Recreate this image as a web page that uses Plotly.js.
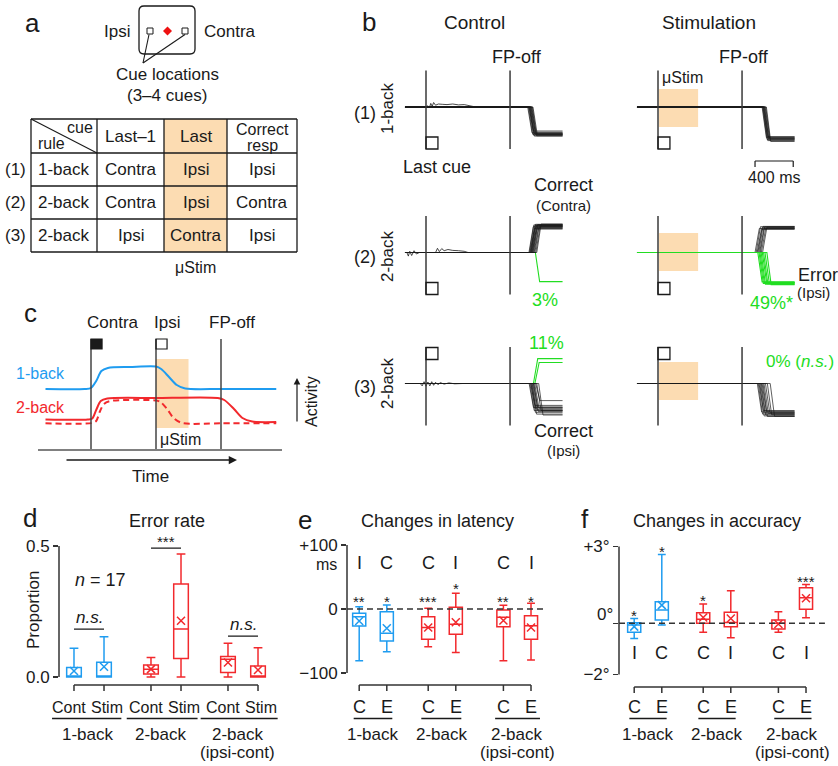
<!DOCTYPE html>
<html>
<head>
<meta charset="utf-8">
<script src="https://cdn.plot.ly/plotly-3.0.1.min.js"></script>
<style>
html,body{margin:0;padding:0;background:#fff;}
#chart{width:838px;height:766px;}
</style>
</head>
<body>
<div id="chart"></div>
<script>
// ======================= DATA =======================
// (a) task table
const tableHeader = ['Last–1', 'Last', 'Correct<br>resp'];
const tableRowIds = ['(1)', '(2)', '(3)'];
const tableRule = ['1-back', '2-back', '2-back'];
const tableLastMinus1 = ['Contra', 'Contra', 'Ipsi'];
const tableLast = ['Ipsi', 'Ipsi', 'Contra'];
const tableCorrect = ['Ipsi', 'Contra', 'Ipsi'];

// (b) eye traces: saccade onset (ms from last cue) and end position (deg, + = up/contra)
const bFPoff = 880, bStimDur = 410, bStart = -220, bEnd = 1430, bSacDur = 45;
const bC1Lat = [1065, 1072, 1078, 1082, 1086, 1090, 1094, 1098, 1103, 1108, 1114, 1120];
const bC1Amp = [-8.6, -9.1, -8.0, -9.4, -8.8, -9.7, -9.0, -8.4, -9.3, -8.9, -9.6, -9.2];
const bS1Lat = [1090, 1096, 1100, 1104, 1108, 1112, 1116, 1122, 1128, 1135];
const bS1Amp = [-10.2, -10.8, -9.9, -11.2, -10.5, -10.0, -11.0, -10.4, -10.7, -11.5];
const bC2Lat = [1078, 1084, 1089, 1094, 1098, 1102, 1106, 1110, 1115, 1120, 1126, 1132, 1140, 1150, 1160];
const bC2Amp = [8.6, 9.2, 8.0, 9.0, 8.4, 9.4, 8.8, 7.8, 9.1, 8.5, 9.3, 8.2, 8.9, 8.7, 9.5];
const bC2ErrLat = [1145];
const bC2ErrAmp = [-9.7];
const bS2Lat = [1016, 1028, 1038, 1046, 1055, 1064, 1072, 1082, 1095];
const bS2Amp = [8.0, 8.6, 7.7, 8.3, 8.7, 8.0, 8.5, 7.9, 8.4];
const bS2ErrLat = [1045, 1058, 1068, 1080, 1092, 1105, 1120, 1140];
const bS2ErrAmp = [-9.8, -10.3, -10.0, -10.6, -9.9, -10.4, -10.1, -10.7];
const bC3Lat = [1080, 1088, 1095, 1100, 1106, 1112, 1118, 1124, 1130, 1138, 1148, 1160, 1180];
const bC3Amp = [-8.0, -9.0, -7.3, -9.6, -8.5, -10.2, -8.8, -7.8, -9.3, -8.2, -5.7, -9.0, -10.5];
const bC3ErrLat = [1125, 1140];
const bC3ErrAmp = [8.3, 7.0];
const bS3Lat = [1040, 1050, 1058, 1066, 1074, 1082, 1090, 1100, 1110, 1125, 1145, 1175];
const bS3Amp = [-9.5, -10.2, -9.0, -10.8, -9.8, -10.5, -9.3, -11.0, -10.0, -9.7, -10.4, -10.9];
const bC1WigT = [0, 20, 35, 50, 65, 80, 100, 130, 170, 220, 280, 340, 400, 460, 520];
const bC1WigY = [0, 0.4, -0.3, 1.2, 0.2, 1.5, 0.6, 1.0, 0.9, 0.8, 1.0, 0.7, 0.8, 0.5, 0];
const bC2WigT = [-200, -185, -170, -150, -125, -100, -70, 100, 120, 140, 165, 190, 230, 280, 340, 400, 440];
const bC2WigY = [0, -1.2, 0.4, -1.0, 0.6, -0.5, 0, 0, 1.4, 0.3, 1.3, 0.6, 1.0, 0.7, 0.6, 0.4, 0];
const bC3WigT = [-60, -40, -20, 0, 20, 40, 60, 80, 100, 125, 150, 190, 240, 300, 380];
const bC3WigY = [0, -0.8, 0.6, -0.9, 0.5, -0.8, 0.6, -0.6, 0.4, -0.4, 0.3, -0.2, 0.2, -0.1, 0];

// (c) schematic activity (time: Contra cue = 0, Ipsi cue = 1, FP-off = 2)
const cEvents = ['Contra', 'Ipsi', 'FP-off'];
const cBlueT = [-0.7, -0.1, 0.0, 0.08, 0.16, 0.26, 0.6, 1.0, 1.08, 1.2, 1.32, 1.45, 2.0, 2.85];
const cBlueY = [6.0, 6.0, 6.1, 6.8, 7.8, 8.1, 8.2, 8.25, 8.0, 7.2, 6.4, 6.05, 6.0, 6.0];
const cRedT = [-0.7, -0.05, 0.02, 0.08, 0.15, 0.25, 1.0, 1.95, 2.05, 2.2, 2.33, 2.48, 2.85];
const cRedY = [2.95, 2.95, 3.05, 3.9, 4.8, 5.05, 5.1, 5.1, 4.9, 4.0, 3.1, 2.75, 2.7];
const cDashT = [-0.7, 0.02, 0.08, 0.14, 0.2, 0.3, 1.0, 1.07, 1.17, 1.27, 1.4, 2.0, 2.85];
const cDashY = [2.57, 2.6, 2.8, 3.8, 4.5, 4.8, 4.85, 4.7, 4.0, 3.1, 2.6, 2.57, 2.57];

// (d) error rate  [1b Cont, 1b Stim, 2b Cont, 2b Stim, ipsi Cont, ipsi Stim]
const groupNames = ['1-back', '2-back', '2-back'];
const groupSub = ['', '', '(ipsi-cont)'];
const dConds = ['Cont', 'Stim'];
const dLo = [0, 0, 0, 0, 0, 0];
const dQ1 = [0, 0, 0.011, 0.071, 0.017, 0];
const dMed = [0, 0, 0.03, 0.183, 0.068, 0];
const dQ3 = [0.036, 0.056, 0.046, 0.355, 0.078, 0.042];
const dHi = [0.11, 0.154, 0.074, 0.469, 0.129, 0.112];
const dMean = [0.023, 0.039, 0.03, 0.215, 0.055, 0.027];
const dSig = ['<i>n.s.</i>', '***', '<i>n.s.</i>'];

// (e) changes in latency (ms)
const eConds = ['C', 'E'];
const eLo = [-80.7, -66.7, -59, -68, -81, -79.7];
const eQ1 = [-26.6, -50, -47.4, -39.5, -27.6, -47.4];
const eMed = [-12, -38, -29, -24, -13, -26];
const eQ3 = [-6.8, -4.2, -12, 2.6, -1.6, -10.4];
const eHi = [3.6, 6.3, 1, 24.5, 6, 9];
const eMean = [-18.8, -30, -29, -20.8, -18, -29];
const eSide = ['I', 'C', 'C', 'I', 'C', 'I'];
const eStars = ['**', '*', '***', '*', '**', '*'];

// (f) changes in accuracy (deg)
const fLo = [-0.59, -0.07, -0.35, -0.56, -0.35, 0.22];
const fQ1 = [-0.35, 0.13, 0, -0.13, -0.22, 0.55];
const fMed = [-0.07, 0.52, 0.16, 0.03, 0, 1.0];
const fQ3 = [0.02, 0.84, 0.41, 0.43, 0.13, 1.39];
const fHi = [0.19, 2.69, 0.75, 1.27, 0.45, 1.52];
const fMean = [-0.13, 0.71, 0.23, 0.19, -0.03, 0.98];
const fSide = ['I', 'C', 'C', 'I', 'C', 'I'];
const fStars = ['*', '*', '*', '', '', '***'];

// ======================= STYLE / HELPERS =======================
const W = 838, H = 766;
const FONT = 'Liberation Sans, Arial, Helvetica, sans-serif';
const INK = '#1a1a1a', BLUE = '#1f9cf0', RED = '#f2292d', GREEN = '#22dd22', ORANGE = '#fcdcb2';
const traces = [], shapes = [], annotations = [];
const layout = {
  width: W, height: H, margin: {l: 0, r: 0, t: 0, b: 0},
  paper_bgcolor: '#ffffff', plot_bgcolor: 'rgba(0,0,0,0)', showlegend: false,
  font: {family: FONT, size: 17, color: INK}, shapes: shapes, annotations: annotations
};
const xk = i => 'xaxis' + (i === 1 ? '' : i), yk = i => 'yaxis' + (i === 1 ? '' : i);
const xa = i => 'x' + (i === 1 ? '' : i), ya = i => 'y' + (i === 1 ? '' : i);
const xDom = (a, b) => [a / W, b / W];
const yDom = (top, bot) => [1 - bot / H, 1 - top / H];
function axX(i, v) { const a = layout[xk(i)]; return a.domain[0] + (v - a.range[0]) / (a.range[1] - a.range[0]) * (a.domain[1] - a.domain[0]); }
function TP(text, xp, yp, size, color, extra) {
  annotations.push(Object.assign({text: text, x: xp, y: yp, xref: 'paper', yref: 'paper', showarrow: false,
    xanchor: 'center', yanchor: 'middle', font: {family: FONT, size: size || 17, color: color || INK}}, extra || {}));
}
function T(text, x, y, size, color, extra) { TP(text, x / W, 1 - y / H, size, color, extra); }
function LP(x0, y0, x1, y1, w, color, dash) {
  shapes.push({type: 'line', xref: 'paper', yref: 'paper', x0: x0, y0: y0, x1: x1, y1: y1,
    line: {color: color || INK, width: w || 1.3, dash: dash || 'solid'}});
}
function L(x0, y0, x1, y1, w, color, dash) { LP(x0 / W, 1 - y0 / H, x1 / W, 1 - y1 / H, w, color, dash); }
function R(x0, y0, x1, y1, fill, lineColor, lw) {
  shapes.push({type: 'rect', xref: 'paper', yref: 'paper', x0: x0 / W, y0: 1 - y0 / H, x1: x1 / W, y1: 1 - y1 / H,
    fillcolor: fill || 'rgba(0,0,0,0)', line: {color: lineColor || INK, width: lw === undefined ? 1.2 : lw}});
}
const P = (x, y) => (x / W).toFixed(5) + ',' + (1 - y / H).toFixed(5);

// ======================= (a) =======================
T('a', 32, 23, 26);
T('Ipsi', 132, 31, 17, INK, {xanchor: 'right'});
T('Contra', 202, 31, 17, INK, {xanchor: 'left'});
(function () {
  const x0 = 139, y0 = 6, x1 = 195, y1 = 54, r = 5;
  const path = 'M' + P(x0 + r, y0) + ' L' + P(x1 - r, y0) + ' Q' + P(x1, y0) + ' ' + P(x1, y0 + r) +
    ' L' + P(x1, y1 - r) + ' Q' + P(x1, y1) + ' ' + P(x1 - r, y1) + ' L' + P(x0 + r, y1) +
    ' Q' + P(x0, y1) + ' ' + P(x0, y1 - r) + ' L' + P(x0, y0 + r) + ' Q' + P(x0, y0) + ' ' + P(x0 + r, y0) + ' Z';
  shapes.push({type: 'path', xref: 'paper', yref: 'paper', path: path, line: {color: INK, width: 1.3}, fillcolor: 'rgba(0,0,0,0)'});
  const cx = 167.5, cy = 31, d = 4.5;
  shapes.push({type: 'path', xref: 'paper', yref: 'paper',
    path: 'M' + P(cx, cy - d) + ' L' + P(cx + d, cy) + ' L' + P(cx, cy + d) + ' L' + P(cx - d, cy) + ' Z',
    fillcolor: '#ee1111', line: {width: 0}});
})();
R(147, 28, 153, 34, null, INK, 1);
R(182, 28, 188, 34, null, INK, 1);
L(149, 34.5, 143, 63, 1.1);
L(185, 34.5, 143, 63, 1.1);
T('Cue locations', 167, 75, 17);
T('(3–4 cues)', 167, 95, 17);
(function () {
  const tX = [31, 97, 164, 227, 297], tY = [119, 153, 186, 219, 252];
  R(tX[2], tY[0], tX[3], tY[4], ORANGE, ORANGE, 0);
  tX.forEach(x => L(x, tY[0], x, tY[4], 1.3));
  tY.forEach(y => L(tX[0], y, tX[4], y, 1.3));
  L(tX[0], tY[0], tX[1], tY[1], 1.1);
  T('cue', 80, 127, 16);
  T('rule', 51, 143, 16);
  const cx = k => (tX[k] + tX[k + 1]) / 2;
  tableHeader.forEach((h, k) => {
    const parts = h.split('<br>');
    if (parts.length === 1) T(h, cx(k + 1), 136, 17);
    else { T(parts[0], cx(k + 1), 130, 16); T(parts[1], cx(k + 1), 145, 16); }
  });
  for (let r = 0; r < 3; r++) {
    const yc = (tY[r + 1] + tY[r + 2]) / 2;
    T(tableRowIds[r], 15, yc, 17);
    T(tableRule[r], cx(0), yc, 17);
    T(tableLastMinus1[r], cx(1), yc, 17);
    T(tableLast[r], cx(2), yc, 17);
    T(tableCorrect[r], cx(3), yc, 17);
  }
  T('μStim', cx(2), 267, 16);
})();

// ======================= (b) =======================
const bPxPerMs = 0.0955;
const bColPx = [[398, 426, 572], [630, 658, 804]];
const bRowBase = [107, 252.5, 383.5];
const bOrange = [[-6.7, 6.0], [-6.2, 6.5], [-5.5, 7.2]];
for (let r = 0; r < 3; r++) {
  for (let c = 0; c < 2; c++) {
    const i = r * 2 + c + 1, l = bColPx[c][0], z = bColPx[c][1], rt = bColPx[c][2], b = bRowBase[r];
    layout[xk(i)] = {domain: xDom(l, rt), range: [(l - z) / bPxPerMs, (rt - z) / bPxPerMs], anchor: ya(i), visible: false, fixedrange: true};
    layout[yk(i)] = {domain: yDom(b - 48, b + 48), range: [-16, 16], anchor: xa(i), visible: false, fixedrange: true};
    [0, bFPoff].forEach(t => shapes.push({type: 'line', xref: xa(i), yref: ya(i), x0: t, x1: t, y0: -14, y1: 12.2,
      line: {color: '#3a3a3a', width: 1.5}}));
    const sq = r < 2 ? [-14, -10] : [8, 12];
    shapes.push({type: 'rect', xref: xa(i), yref: ya(i), x0: 0, x1: 125, y0: sq[0], y1: sq[1],
      line: {color: INK, width: 1.3}, fillcolor: 'rgba(0,0,0,0)'});
    if (c === 1) shapes.push({type: 'rect', layer: 'below', xref: xa(i), yref: ya(i), x0: 10, x1: 10 + bStimDur,
      y0: bOrange[r][0], y1: bOrange[r][1], line: {width: 0}, fillcolor: ORANGE});
  }
}
function addLine(i, xs, ys, color, width) {
  traces.push({type: 'scatter', mode: 'lines', xaxis: xa(i), yaxis: ya(i), x: xs, y: ys,
    line: {color: color, width: width}, hoverinfo: 'skip', showlegend: false});
}
function addSacc(i, lats, amps, color, width) {
  lats.forEach((lat, k) => addLine(i, [bStart, lat, lat + bSacDur, bEnd], [0, 0, amps[k], amps[k]], color, width));
}
addLine(1, bC1WigT, bC1WigY, INK, 0.8);
addSacc(1, bC1Lat, bC1Amp, INK, 0.7);
addSacc(2, bS1Lat, bS1Amp, INK, 0.7);
addSacc(3, bC2ErrLat, bC2ErrAmp, GREEN, 1.1);
addLine(3, bC2WigT, bC2WigY, INK, 0.8);
addSacc(3, bC2Lat, bC2Amp, INK, 0.7);
addSacc(4, bS2Lat, bS2Amp, INK, 0.7);
addSacc(4, bS2ErrLat, bS2ErrAmp, GREEN, 1.1);
addSacc(5, bC3ErrLat, bC3ErrAmp, GREEN, 1.1);
addLine(5, bC3WigT, bC3WigY, INK, 0.8);
addSacc(5, bC3Lat, bC3Amp, INK, 0.7);
addSacc(6, bS3Lat, bS3Amp, INK, 0.7);

T('b', 369, 22, 26);
T('Control', 474, 22, 19);
T('Stimulation', 709, 22, 19);
T('FP-off', 517, 57, 18);
T('FP-off', 744, 57, 18);
T('μStim', 682, 78, 16);
T('(1)', 365, 113, 18);
T('1-back', 387, 108, 17, INK, {textangle: -90});
T('(2)', 365, 257, 18);
T('2-back', 387, 256, 17, INK, {textangle: -90});
T('(3)', 365, 387, 18);
T('2-back', 387, 383, 17, INK, {textangle: -90});
T('Last cue', 437, 167, 18);
T('Correct', 563, 185, 18);
T('(Contra)', 563, 205, 15);
T('3%', 545, 300, 18, GREEN);
T('Error', 796, 275, 18, INK, {xanchor: 'left'});
T('(Ipsi)', 795, 292, 15, INK, {xanchor: 'left'});
T('49%*', 771, 303, 18, GREEN);
T('11%', 546, 343, 18, GREEN);
T('Correct', 563, 431, 18);
T('(Ipsi)', 563, 450, 15);
T('0% (<i>n.s.</i>)', 800, 361, 17, GREEN);
(function () {
  const xa0 = axX(2, 1016), xa1 = axX(2, 1416), y0 = 1 - 161 / H, y1 = 1 - 167 / H;
  LP(xa0, y0, xa1, y0, 1.2);
  LP(xa0, y0, xa0, y1, 1.2);
  LP(xa1, y0, xa1, y1, 1.2);
  TP('400 ms', (xa0 + xa1) / 2, 1 - 177 / H, 16);
})();

// ======================= (c) =======================
layout.xaxis7 = {domain: xDom(38, 282), range: [(38 - 91) / 65, (282 - 91) / 65], anchor: 'y7', showline: true,
  linecolor: '#808080', linewidth: 1.5, showticklabels: false, ticks: '', showgrid: false, zeroline: false, fixedrange: true};
layout.yaxis7 = {domain: yDom(334, 449), range: [0, 11.5], anchor: 'x7', visible: false, fixedrange: true};
shapes.push({type: 'rect', layer: 'below', xref: 'x7', yref: 'y7', x0: 1, x1: 1.5, y0: 2.1, y1: 9.0, line: {width: 0}, fillcolor: ORANGE});
[0, 1, 2].forEach(t => shapes.push({type: 'line', xref: 'x7', yref: 'y7', x0: t, x1: t, y0: 0, y1: 11, line: {color: '#444', width: 1.5}}));
shapes.push({type: 'rect', xref: 'x7', yref: 'y7', x0: 0, x1: 0.17, y0: 10.0, y1: 11.0, line: {color: INK, width: 1.2}, fillcolor: INK});
shapes.push({type: 'rect', xref: 'x7', yref: 'y7', x0: 1, x1: 1.17, y0: 10.0, y1: 11.0, line: {color: INK, width: 1.2}, fillcolor: 'rgba(0,0,0,0)'});
traces.push({type: 'scatter', mode: 'lines', xaxis: 'x7', yaxis: 'y7', x: cBlueT, y: cBlueY, line: {color: BLUE, width: 2, shape: 'spline', smoothing: 0.8}, hoverinfo: 'skip'});
traces.push({type: 'scatter', mode: 'lines', xaxis: 'x7', yaxis: 'y7', x: cRedT, y: cRedY, line: {color: RED, width: 2, shape: 'spline', smoothing: 0.8}, hoverinfo: 'skip'});
traces.push({type: 'scatter', mode: 'lines', xaxis: 'x7', yaxis: 'y7', x: cDashT, y: cDashY, line: {color: RED, width: 2, dash: '6px,4px', shape: 'spline', smoothing: 0.8}, hoverinfo: 'skip'});
T('c', 30, 313, 26);
[0, 1, 2].forEach(k => TP(cEvents[k], axX(7, k) + (k === 0 ? 22 / W : 11 / W), 1 - 322 / H, 17));
T('1-back', 67, 373, 16, BLUE, {xanchor: 'right'});
T('2-back', 67, 407, 16, RED, {xanchor: 'right'});
T('μStim', 180, 439, 16);
annotations.push({x: 237 / W, y: 1 - 460 / H, xref: 'paper', yref: 'paper', ax: -172, ay: 0, text: '', showarrow: true,
  arrowhead: 2, arrowsize: 1.1, arrowwidth: 1.5, arrowcolor: INK});
T('Time', 150, 476, 17);
annotations.push({x: 297 / W, y: 1 - 378 / H, xref: 'paper', yref: 'paper', ax: 0, ay: 45, text: '', showarrow: true,
  arrowhead: 2, arrowsize: 1.1, arrowwidth: 1.2, arrowcolor: INK});
T('Activity', 312, 402, 16, INK, {textangle: -90});

// ======================= (d)(e)(f) box panels =======================
function yTicks(tv, tt) {
  return {showline: false, showgrid: false, zeroline: false, ticks: 'outside', ticklen: 5, tickwidth: 1.5, tickcolor: '#333',
    tickvals: tv, ticktext: tt, tickfont: {family: FONT, size: 17, color: INK}, fixedrange: true};
}
layout.xaxis8 = {domain: xDom(59, 282), range: [(59 - 89) / 77, (282 - 89) / 77], anchor: 'y8', visible: false, fixedrange: true};
layout.yaxis8 = Object.assign({domain: yDom(677 - 0.52 * 262, 677 + 0.02 * 262), range: [-0.02, 0.52], anchor: 'x8'}, yTicks([0, 0.5], ['0.0', '0.5']));
layout.xaxis9 = {domain: xDom(347, 545), range: [(347 - 373) / 69, (545 - 373) / 69], anchor: 'y9', visible: false, fixedrange: true};
layout.yaxis9 = Object.assign({domain: yDom(609 - 105 * 0.64, 609 + 105 * 0.64), range: [-105, 105], anchor: 'x9'}, yTicks([-100, 0, 100], ['−100', '0', '+100']));
layout.xaxis10 = {domain: xDom(619, 827), range: [(619 - 648) / 69, (827 - 648) / 69], anchor: 'y10', visible: false, fixedrange: true};
layout.yaxis10 = Object.assign({domain: yDom(623.3 - 3.1 * 25.6, 623.3 + 2.1 * 25.6), range: [-2.1, 3.1], anchor: 'x10'}, yTicks([-2, 0, 3], ['−2°', '', '+3°']));

function boxPanel(cfg) {
  const i = cfg.i, pos = [];
  for (let k = 0; k < 6; k++) {
    const g = Math.floor(k / 2);
    const p = cfg.gx[g] + (k % 2 ? cfg.off : -cfg.off);
    pos.push(p);
    const col = cfg.colors[g];
    traces.push({type: 'box', xaxis: xa(i), yaxis: ya(i), x: [p], q1: [cfg.q1[k]], median: [cfg.med[k]], q3: [cfg.q3[k]],
      lowerfence: [cfg.lo[k]], upperfence: [cfg.hi[k]], width: cfg.bw, whiskerwidth: 0.6,
      line: {color: col, width: 1.5}, fillcolor: 'rgba(255,255,255,0)', boxpoints: false, hoverinfo: 'skip', showlegend: false});
    traces.push({type: 'scatter', mode: 'markers', xaxis: xa(i), yaxis: ya(i), x: [p], y: [cfg.mean[k]],
      marker: {symbol: 'x-thin-open', size: 8, color: col, line: {color: col, width: 1.5}}, hoverinfo: 'skip', showlegend: false});
    const xp = axX(i, p);
    LP(xp, 1 - cfg.bracketY / H, xp, 1 - (cfg.bracketY + 6) / H, 1.5, '#333');
    TP(cfg.conds[k % 2], xp, 1 - 707 / H, cfg.condSize, INK, {xshift: cfg.condShift[k % 2]});
  }
  LP(axX(i, pos[0]), 1 - cfg.bracketY / H, axX(i, pos[5]), 1 - cfg.bracketY / H, 1.5, '#333');
  for (let g = 0; g < 3; g++) {
    const ul = cfg.ul[g];
    LP(axX(i, cfg.gx[g] + ul[0]), 1 - 718.5 / H, axX(i, cfg.gx[g] + ul[1]), 1 - 718.5 / H, 1.3, INK);
    TP(groupNames[g], axX(i, cfg.gx[g]), 1 - 734 / H, 17, INK, {xshift: cfg.labShift[g]});
    if (groupSub[g]) TP(groupSub[g], axX(i, cfg.gx[g]), 1 - 752 / H, 17, INK, {xshift: cfg.labShift[g]});
  }
  shapes.push({type: 'line', xref: xa(i) + ' domain', yref: ya(i), x0: 0, x1: 0, y0: cfg.spine[0], y1: cfg.spine[1], line: {color: '#333', width: 1.5}});
  return pos;
}

// (d)
const dPos = boxPanel({i: 8, gx: [0, 1, 2], off: 0.195, bw: 0.19, colors: [BLUE, RED, RED],
  lo: dLo, q1: dQ1, med: dMed, q3: dQ3, hi: dHi, mean: dMean, conds: dConds, condSize: 16, condShift: [-5, 3],
  bracketY: 685, ul: [[-0.48, 0.42], [-0.51, 0.41], [-0.55, 0.45]], labShift: [-1, -5, -5], spine: [0, 0.5]});
T('d', 30, 518, 26);
T('Error rate', 167, 521, 18);
T('Proportion', 33, 610, 17, INK, {textangle: -90});
T('<i>n</i> = 17', 100, 580, 18);
const dSigLineY = [0.183, 0.492, 0.156];
for (let g = 0; g < 3; g++) {
  shapes.push({type: 'line', xref: 'x8', yref: 'y8', x0: dPos[2 * g], x1: dPos[2 * g + 1], y0: dSigLineY[g], y1: dSigLineY[g], line: {color: INK, width: 1.3}});
  const star = dSig[g].indexOf('*') >= 0;
  annotations.push({text: dSig[g], xref: 'x8', yref: 'y8', x: g, y: dSigLineY[g], yanchor: 'bottom', xanchor: 'center',
    showarrow: false, yshift: star ? -4 : 0, font: {family: FONT, size: star ? 15 : 17, color: INK}});
}

// (e)
const ePos = boxPanel({i: 9, gx: [0, 1, 2.09], off: 0.2, bw: 0.19, colors: [BLUE, RED, RED],
  lo: eLo, q1: eQ1, med: eMed, q3: eQ3, hi: eHi, mean: eMean, conds: eConds, condSize: 18, condShift: [0, 0],
  bracketY: 685, ul: [[-0.28, 0.28], [-0.3, 0.28], [-0.32, 0.33]], labShift: [0, 0, 0], spine: [-100, 100]});
shapes.push({type: 'line', xref: 'x9 domain', yref: 'y9', x0: 0, x1: 1, y0: 0, y1: 0, line: {color: '#333', width: 1.5, dash: '6px,4px'}});
T('e', 305, 520, 26);
T('Changes in latency', 437, 521, 18);
T('ms', 339, 564, 16, INK, {xanchor: 'right'});
const eStarY = [17, 17, 17, 37, 17, 17];
for (let k = 0; k < 6; k++) {
  annotations.push({text: eSide[k], xref: 'x9', yref: 'y9', x: ePos[k], y: 72, showarrow: false, font: {family: FONT, size: 18, color: INK}});
  if (eStars[k]) annotations.push({text: eStars[k], xref: 'x9', yref: 'y9', x: ePos[k], y: eStarY[k], yshift: -3, showarrow: false, font: {family: FONT, size: 15, color: INK}});
}

// (f)
const fPos = boxPanel({i: 10, gx: [0, 1, 2.09], off: 0.2, bw: 0.19, colors: [BLUE, RED, RED],
  lo: fLo, q1: fQ1, med: fMed, q3: fQ3, hi: fHi, mean: fMean, conds: eConds, condSize: 18, condShift: [0, 0],
  bracketY: 687, ul: [[-0.27, 0.27], [-0.27, 0.27], [-0.26, 0.28]], labShift: [0, 0, 0], spine: [-2, 3]});
shapes.push({type: 'line', xref: 'x10 domain', yref: 'y10', x0: 0, x1: 0.99, y0: 0, y1: 0, line: {color: '#333', width: 1.5, dash: '6px,4px'}});
T('f', 585, 519, 26);
T('Changes in accuracy', 717, 521, 18);
T('0°', 605, 614, 17);
for (let k = 0; k < 6; k++) {
  annotations.push({text: fSide[k], xref: 'x10', yref: 'y10', x: fPos[k], y: -1.15, showarrow: false, font: {family: FONT, size: 18, color: INK}});
  if (fStars[k]) annotations.push({text: fStars[k], xref: 'x10', yref: 'y10', x: fPos[k], y: fHi[k] + 0.24, yshift: -3, showarrow: false, font: {family: FONT, size: 15, color: INK}});
}

Plotly.newPlot('chart', traces, layout, {staticPlot: true, displayModeBar: false});
</script>
</body>
</html>
